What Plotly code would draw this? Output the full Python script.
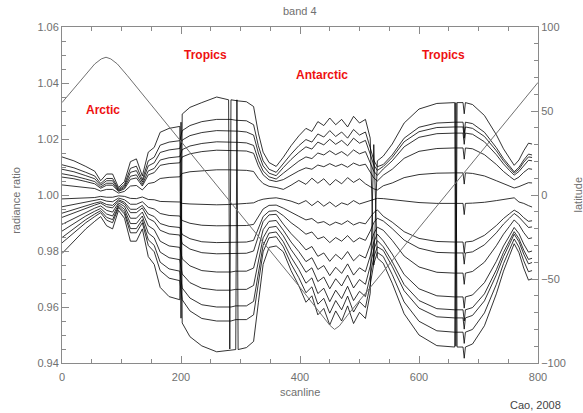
import plotly.graph_objects as go

# scanline positions where detector ratios were read
scanline = [0, 20, 40, 55, 65, 75, 85, 95, 105, 115,
            125, 135, 145, 155, 165, 180, 198, 200, 202, 215,
            235, 260, 280, 282, 284, 292, 294, 296, 310, 322,
            330, 338, 348, 360, 372, 385, 398, 410, 420, 430,
            440, 450, 460, 470, 480, 490, 500, 510, 518, 524,
            530, 540, 555, 575, 600, 630, 660, 662, 664, 674,
            676, 678, 690, 710, 730, 742, 752, 760, 768, 776,
            784, 790]

det01 = [1.0136, 1.0122, 1.0102, 1.0085, 1.0051, 1.0075, 1.0075, 1.0027, 1.0048, 1.0119,
         1.0129, 1.0068, 1.0153, 1.017, 1.0224, 1.0238, 1.0245, 0.956, 1.0289, 1.0313,
         1.033, 1.035, 1.034, 0.945, 1.034, 1.0337, 1.0337, 1.0336, 1.0333, 1.0316,
         1.0221, 1.0153, 1.0116, 1.0102, 1.0135, 1.0176, 1.0211, 1.0238, 1.0227, 1.0262,
         1.0248, 1.0275, 1.0251, 1.027, 1.0243, 1.0281, 1.0257, 1.027, 1.0203, 0.975,
         1.0122, 1.0139, 1.0182, 1.0257, 1.0307, 1.0327, 1.033, 0.946, 1.033, 1.033,
         1.029, 1.033, 1.0323, 1.0284, 1.0215, 1.0165, 1.0132, 1.0106, 1.0125, 1.0158,
         1.0185, 1.0182]
det02 = [1.0108, 1.0097, 1.0081, 1.0068, 1.0041, 1.0059, 1.0059, 1.0022, 1.0038, 1.0095,
         1.0103, 1.0054, 1.0122, 1.0135, 1.0178, 1.0189, 1.0194, 1.0216, 1.023, 1.0248,
         1.0262, 1.027, 1.027, 1.027, 1.027, 1.0267, 1.0267, 1.0267, 1.0265, 1.0251,
         1.0176, 1.0122, 1.0092, 1.0081, 1.0113, 1.0146, 1.0176, 1.0198, 1.0189, 1.0218,
         1.0207, 1.023, 1.0209, 1.0225, 1.0203, 1.0234, 1.0214, 1.0225, 1.0169, 1.0124,
         1.0101, 1.0109, 1.0143, 1.0203, 1.0242, 1.0257, 1.026, 1.026, 1.026, 1.026,
         1.022, 1.026, 1.0255, 1.0224, 1.0169, 1.013, 1.0104, 1.0083, 1.0099, 1.0125,
         1.0146, 1.0143]
det03 = [1.0092, 1.0083, 1.0069, 1.0058, 1.0035, 1.0051, 1.0051, 1.0018, 1.0032, 1.0081,
         1.0087, 1.0046, 1.0104, 1.0115, 1.0152, 1.0161, 1.0166, 1.0184, 1.0196, 1.0212,
         1.0223, 1.023, 1.023, 1.023, 1.023, 1.0228, 1.0228, 1.0228, 1.0225, 1.0214,
         1.015, 1.0104, 1.0078, 1.0069, 1.0098, 1.0127, 1.0152, 1.0172, 1.0164, 1.0189,
         1.0179, 1.0199, 1.0181, 1.0195, 1.0176, 1.0203, 1.0185, 1.0195, 1.0146, 1.0107,
         1.0088, 1.0102, 1.0134, 1.019, 1.0226, 1.0241, 1.0243, 1.0243, 1.0243, 1.0243,
         1.0203, 1.0243, 1.0238, 1.0209, 1.0158, 1.0122, 1.0097, 1.0078, 1.0092, 1.0117,
         1.0136, 1.0134]
det04 = [1.0076, 1.0068, 1.0057, 1.0048, 1.0029, 1.0042, 1.0042, 1.0015, 1.0027, 1.0067,
         1.0072, 1.0038, 1.0086, 1.0095, 1.0125, 1.0133, 1.0137, 1.0152, 1.0162, 1.0175,
         1.0184, 1.019, 1.019, 1.019, 1.019, 1.0188, 1.0188, 1.0188, 1.0186, 1.0177,
         1.0124, 1.0086, 1.0065, 1.0057, 1.0078, 1.0101, 1.0121, 1.0136, 1.013, 1.015,
         1.0143, 1.0158, 1.0144, 1.0155, 1.014, 1.0161, 1.0147, 1.0155, 1.0116, 1.0085,
         1.007, 1.0093, 1.0122, 1.0172, 1.0206, 1.0219, 1.0221, 1.0221, 1.0221, 1.0221,
         1.0181, 1.0221, 1.0217, 1.019, 1.0144, 1.0111, 1.0088, 1.0071, 1.0084, 1.0106,
         1.0124, 1.0122]
det05 = [1.0064, 1.0058, 1.0048, 1.004, 1.0024, 1.0035, 1.0035, 1.0013, 1.0022, 1.0056,
         1.0061, 1.0032, 1.0072, 1.008, 1.0106, 1.0112, 1.0115, 1.0128, 1.0136, 1.0147,
         1.0155, 1.016, 1.016, 1.016, 1.016, 1.0158, 1.0158, 1.0158, 1.0157, 1.0149,
         1.0104, 1.0072, 1.0054, 1.0048, 1.0055, 1.0072, 1.0086, 1.0097, 1.0092, 1.0107,
         1.0101, 1.0112, 1.0102, 1.011, 1.0099, 1.0114, 1.0105, 1.011, 1.0083, 1.0061,
         1.005, 1.0071, 1.0092, 1.0131, 1.0156, 1.0166, 1.0168, 1.0168, 1.0168, 1.0168,
         1.0128, 1.0168, 1.0165, 1.0144, 1.0109, 1.0084, 1.0067, 1.0054, 1.0064, 1.0081,
         1.0094, 1.0092]
det06 = [1.0036, 1.0032, 1.0027, 1.0023, 1.0014, 1.002, 1.002, 1.0007, 1.0013, 1.0032,
         1.0034, 1.0018, 1.0041, 1.0045, 1.0059, 1.0063, 1.0065, 1.0072, 1.0077, 1.0083,
         1.0087, 1.009, 1.009, 1.009, 1.009, 1.0089, 1.0089, 1.0089, 1.0088, 1.0084,
         1.0059, 1.0041, 1.0031, 1.0027, 1.002, 1.0035, 1.0052, 1.0038, 1.006, 1.0042,
         1.0058, 1.0035, 1.0055, 1.004, 1.0062, 1.0045, 1.0058, 1.004, 1.003, 1.0022,
         1.0018, 1.0033, 1.0043, 1.0062, 1.0073, 1.0078, 1.0079, 1.0079, 1.0079, 1.0079,
         1.0039, 1.0079, 1.0077, 1.0068, 1.0051, 1.004, 1.0032, 1.0025, 1.003, 1.0038,
         1.0044, 1.0043]
det07 = [0.9986, 0.9987, 0.999, 0.9991, 0.9995, 0.9992, 0.9992, 0.9997, 0.9995, 0.9988,
         0.9987, 0.9993, 0.9984, 0.9983, 0.9977, 0.9975, 0.9975, 0.9972, 0.997, 0.9968,
         0.9966, 0.9965, 0.9966, 0.9966, 0.9966, 0.9968, 0.9968, 0.9968, 0.997, 0.9972,
         0.998, 0.9985, 0.9988, 0.999, 0.9985, 0.9978, 0.9968, 0.998, 0.9962, 0.9978,
         0.996, 0.9975, 0.9958, 0.9972, 0.9965, 0.998, 0.9968, 0.9975, 0.9982, 0.9986,
         0.9988, 0.9987, 0.9983, 0.9977, 0.9973, 0.997, 0.997, 0.997, 0.997, 0.997,
         0.993, 0.997, 0.9971, 0.9974, 0.998, 0.9985, 0.9988, 0.999, 0.9975, 0.997,
         0.9962, 0.9957]
det08 = [0.9958, 0.9967, 0.9976, 0.9981, 0.9985, 0.9978, 0.9976, 0.9989, 0.9983, 0.9967,
         0.9967, 0.9976, 0.9956, 0.995, 0.9934, 0.9927, 0.9925, 0.9916, 0.9909, 0.9899,
         0.9892, 0.989, 0.989, 0.989, 0.989, 0.9891, 0.9891, 0.9891, 0.9891, 0.9895,
         0.9923, 0.995, 0.9963, 0.9964, 0.9953, 0.9937, 0.9924, 0.9911, 0.9916, 0.99,
         0.9905, 0.9892, 0.9903, 0.9895, 0.9908, 0.9893, 0.9902, 0.9897, 0.9918, 0.9937,
         0.9947, 0.9924, 0.9903, 0.9869, 0.9845, 0.9834, 0.9832, 0.9832, 0.9832, 0.9832,
         0.9792, 0.9832, 0.9835, 0.9856, 0.9891, 0.9916, 0.9933, 0.9946, 0.9936, 0.9919,
         0.9906, 0.9908]
det09 = [0.9935, 0.9949, 0.9963, 0.9971, 0.9976, 0.9966, 0.9963, 0.9983, 0.9974, 0.9949,
         0.9949, 0.9963, 0.9932, 0.9923, 0.9898, 0.9888, 0.9884, 0.9871, 0.9859, 0.9844,
         0.9833, 0.983, 0.983, 0.983, 0.983, 0.9832, 0.9832, 0.9832, 0.9832, 0.9838,
         0.9881, 0.9923, 0.9942, 0.9944, 0.9926, 0.9901, 0.9881, 0.986, 0.9868, 0.9843,
         0.9851, 0.983, 0.9848, 0.9835, 0.9855, 0.9832, 0.9847, 0.9838, 0.9871, 0.9901,
         0.9917, 0.9907, 0.988, 0.9839, 0.981, 0.9795, 0.9793, 0.9793, 0.9793, 0.9793,
         0.9753, 0.9793, 0.9797, 0.9822, 0.9865, 0.9896, 0.9917, 0.9934, 0.9921, 0.9901,
         0.9884, 0.9886]
det10 = [0.992, 0.9937, 0.9954, 0.9964, 0.9971, 0.9958, 0.9954, 0.9979, 0.9968, 0.9937,
         0.9937, 0.9954, 0.9916, 0.9905, 0.9874, 0.9861, 0.9857, 0.984, 0.9826, 0.9807,
         0.9794, 0.979, 0.979, 0.979, 0.979, 0.9792, 0.9792, 0.9792, 0.9792, 0.98,
         0.9853, 0.9905, 0.9929, 0.9931, 0.9896, 0.9862, 0.9834, 0.9804, 0.9816, 0.9781,
         0.9793, 0.9763, 0.9788, 0.977, 0.9798, 0.9765, 0.9786, 0.9775, 0.9821, 0.9862,
         0.9885, 0.9874, 0.9838, 0.9782, 0.9743, 0.9724, 0.9721, 0.9721, 0.9721, 0.9721,
         0.9681, 0.9721, 0.9727, 0.976, 0.9819, 0.986, 0.9888, 0.9911, 0.9894, 0.9866,
         0.9844, 0.9847]
det11 = [0.9895, 0.9917, 0.9939, 0.9953, 0.9961, 0.9945, 0.9939, 0.9972, 0.9959, 0.9917,
         0.9917, 0.9939, 0.989, 0.9876, 0.9835, 0.9818, 0.9813, 0.9791, 0.9772, 0.9747,
         0.973, 0.9725, 0.9725, 0.9725, 0.9725, 0.9728, 0.9728, 0.9728, 0.9728, 0.9739,
         0.9807, 0.9876, 0.9906, 0.9909, 0.9874, 0.9832, 0.9798, 0.9762, 0.9776, 0.9734,
         0.9748, 0.9712, 0.9742, 0.972, 0.9754, 0.9714, 0.974, 0.9726, 0.9782, 0.9832,
         0.986, 0.9836, 0.9789, 0.9716, 0.9665, 0.964, 0.9636, 0.9636, 0.9636, 0.9636,
         0.9596, 0.9636, 0.9643, 0.9687, 0.9763, 0.9818, 0.9854, 0.9884, 0.9862, 0.9825,
         0.9796, 0.98]
det12 = [0.9871, 0.9898, 0.9925, 0.9942, 0.9952, 0.9932, 0.9925, 0.9966, 0.9949, 0.9898,
         0.9898, 0.9925, 0.9864, 0.9847, 0.9796, 0.9776, 0.9769, 0.9742, 0.9718, 0.9687,
         0.9667, 0.966, 0.966, 0.966, 0.966, 0.9663, 0.9663, 0.9663, 0.9663, 0.9677,
         0.9762, 0.9847, 0.9884, 0.9888, 0.9854, 0.9805, 0.9766, 0.9724, 0.974, 0.9691,
         0.9707, 0.9665, 0.9701, 0.9675, 0.9714, 0.9668, 0.9698, 0.9681, 0.9746, 0.9805,
         0.9837, 0.9815, 0.9762, 0.968, 0.9623, 0.9594, 0.959, 0.959, 0.959, 0.959,
         0.955, 0.959, 0.9598, 0.9647, 0.9733, 0.9795, 0.9836, 0.9869, 0.9844, 0.9803,
         0.977, 0.9774]
det13 = [0.9848, 0.988, 0.9912, 0.9932, 0.9944, 0.992, 0.9912, 0.996, 0.994, 0.988,
         0.988, 0.9912, 0.984, 0.982, 0.976, 0.9736, 0.9728, 0.9696, 0.9668, 0.9632,
         0.9608, 0.96, 0.96, 0.96, 0.96, 0.9604, 0.9604, 0.9604, 0.9604, 0.962,
         0.972, 0.982, 0.9864, 0.9868, 0.9833, 0.9778, 0.9734, 0.9685, 0.9704, 0.9648,
         0.9667, 0.9619, 0.966, 0.963, 0.9674, 0.9623, 0.9656, 0.9637, 0.9711, 0.9778,
         0.9815, 0.9802, 0.9745, 0.9658, 0.9596, 0.9565, 0.9561, 0.9561, 0.9561, 0.9561,
         0.9521, 0.9561, 0.957, 0.9622, 0.9715, 0.978, 0.9824, 0.986, 0.9833, 0.9789,
         0.9754, 0.9759]
det14 = [0.9829, 0.9865, 0.9901, 0.9923, 0.9937, 0.991, 0.9901, 0.9955, 0.9932, 0.9865,
         0.9865, 0.9901, 0.982, 0.9797, 0.973, 0.9703, 0.9694, 0.9658, 0.9626, 0.9586,
         0.9559, 0.955, 0.955, 0.955, 0.955, 0.9555, 0.9555, 0.9555, 0.9555, 0.9572,
         0.9685, 0.9797, 0.9847, 0.9851, 0.9815, 0.9754, 0.9705, 0.9651, 0.9672, 0.961,
         0.9631, 0.9578, 0.9623, 0.959, 0.9639, 0.9582, 0.9619, 0.9598, 0.968, 0.9754,
         0.9795, 0.978, 0.9716, 0.9618, 0.9549, 0.9515, 0.951, 0.951, 0.951, 0.951,
         0.947, 0.951, 0.952, 0.9579, 0.9681, 0.9755, 0.9804, 0.9843, 0.9814, 0.9765,
         0.9726, 0.973]
det15 = [0.9791, 0.9835, 0.9879, 0.9906, 0.9923, 0.989, 0.9879, 0.9945, 0.9917, 0.9835,
         0.9835, 0.9879, 0.978, 0.9752, 0.967, 0.9637, 0.9626, 1.026, 0.9543, 0.9494,
         0.9461, 0.944, 0.9445, 0.9445, 0.9445, 0.9448, 1.034, 0.9448, 0.9455, 0.9477,
         0.9615, 0.9752, 0.9813, 0.9818, 0.9797, 0.973, 0.9676, 0.9617, 0.964, 0.9572,
         0.9595, 0.9536, 0.9586, 0.955, 0.9604, 0.9541, 0.9581, 0.9559, 0.9649, 1.018,
         0.9775, 0.9756, 0.9685, 0.9576, 0.95, 0.9462, 0.9457, 1.033, 0.9457, 0.9457,
         0.9417, 0.9457, 0.9468, 0.9533, 0.9647, 0.9728, 0.9783, 0.9826, 0.9794, 0.9739,
         0.9696, 0.9701]

detectors = [det01, det02, det03, det04, det05, det06, det07, det08,
             det09, det10, det11, det12, det13, det14, det15]

# sub-satellite latitude along the orbit
lat_scan = [0, 20, 40, 55, 66, 74, 82, 93, 110, 200, 300, 400, 430, 440,
            450, 458, 466, 480, 600, 700, 800]
lat_deg = [55, 63.5, 72, 78, 81, 82, 81, 78, 71, 32, -11.5, -55, -68.5, -72.8,
           -77.5, -80, -78, -71.5, -19.5, 23.5, 67]

region_names = ["Arctic", "Tropics", "Antarctic", "Tropics"]
region_x = [69, 242, 437, 642]
region_y = [1.0303, 1.050, 1.0428, 1.050]

fig = go.Figure()
for d in detectors:
    fig.add_trace(go.Scatter(x=scanline, y=d, mode="lines",
                             line=dict(color="black", width=0.8),
                             hoverinfo="skip"))
fig.add_trace(go.Scatter(x=lat_scan, y=lat_deg, mode="lines", yaxis="y2",
                         line=dict(color="#707070", width=1), hoverinfo="skip"))

axis_col = "#8a8a8a"
font_col = "#707070"

fig.update_layout(
    width=583, height=413,
    margin=dict(l=62, r=45, t=27, b=50),
    paper_bgcolor="white", plot_bgcolor="white",
    showlegend=False,
    font=dict(family="Liberation Sans, Arial, sans-serif", size=11, color=font_col),
    xaxis=dict(range=[0, 800], tickvals=[0, 200, 400, 600, 800],
               ticks="inside", ticklen=7, tickcolor=axis_col,
               showline=True, linecolor=axis_col, linewidth=1, mirror="ticks",
               showgrid=False, zeroline=False, ticklabelstandoff=4, automargin=False,
               minor=dict(dtick=50, ticks="inside", ticklen=4, tickcolor=axis_col)),
    yaxis=dict(range=[0.94, 1.06], tickvals=[0.94, 0.96, 0.98, 1.00, 1.02, 1.04, 1.06],
               tickformat=".2f", automargin=False,
               ticks="inside", ticklen=7, tickcolor=axis_col,
               showline=True, linecolor=axis_col, linewidth=1,
               showgrid=False, zeroline=False,
               minor=dict(dtick=0.005, ticks="inside", ticklen=4, tickcolor=axis_col)),
    yaxis2=dict(range=[-100, 100], tickvals=[-100, -50, 0, 50, 100],
                overlaying="y", side="right", automargin=False,
                ticks="inside", ticklen=7, tickcolor=axis_col,
                showline=True, linecolor=axis_col, linewidth=1,
                showgrid=False, zeroline=False,
                minor=dict(dtick=10, ticks="inside", ticklen=4, tickcolor=axis_col)),
)

for name, rx, ry in zip(region_names, region_x, region_y):
    fig.add_annotation(x=rx, y=ry, xref="x", yref="y", text="<b>" + name + "</b>",
                       xanchor="center", yanchor="middle",
                       showarrow=False, font=dict(color="#ee1111", size=12))

def paper_text(px, py, txt, angle=0, color=font_col):
    fig.add_annotation(x=px, y=py, xref="paper", yref="paper", text=txt,
                       xanchor="center", yanchor="middle", textangle=angle,
                       showarrow=False, font=dict(size=11, color=color))

paper_text(0.5, 1.047, "band 4")
paper_text(0.5, -0.087, "scanline")
paper_text(-0.097, 0.485, "radiance ratio", angle=-90)
paper_text(1.085, 0.5, "latitude", angle=-90)
paper_text(0.994, -0.125, "Cao, 2008", color="#444444")

fig.write_html("out.html",
               config={"displayModeBar": False},
               post_script="document.body.style.margin='0';document.body.style.padding='0';")
